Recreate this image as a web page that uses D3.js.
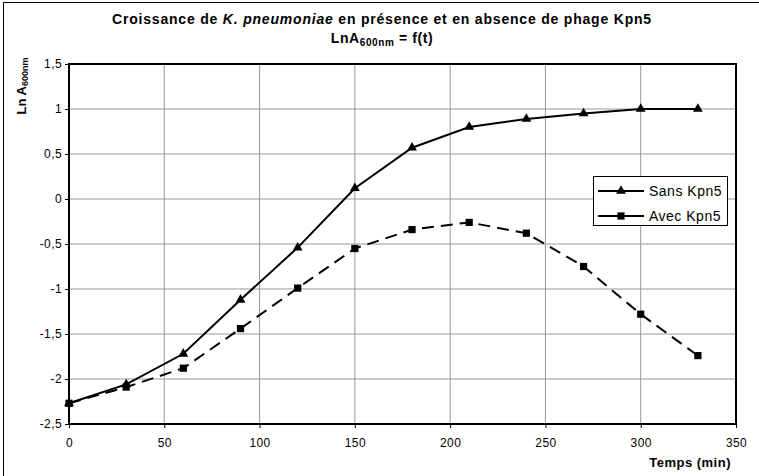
<!DOCTYPE html>
<html>
<head>
<meta charset="utf-8">
<script src="https://cdn.jsdelivr.net/npm/d3@7"></script>
<style>
  body { margin: 0; background: #fff; }
  svg { display: block; font-family: "Liberation Sans", Arial, sans-serif; }
</style>
</head>
<body>
<svg id="chart" width="759" height="476"></svg>
<script>
// data
var times = [0, 30, 60, 90, 120, 150, 180, 210, 240, 270, 300, 330];
var sansKpn5 = [-2.27, -2.06, -1.72, -1.12, -0.54, 0.12, 0.57, 0.80, 0.89, 0.95, 1.0, 1.0];
var avecKpn5 = [-2.27, -2.09, -1.88, -1.44, -0.99, -0.55, -0.34, -0.26, -0.38, -0.75, -1.28, -1.74];
var xTicks = [0, 50, 100, 150, 200, 250, 300, 350];
var yTicks = [-2.5, -2, -1.5, -1, -0.5, 0, 0.5, 1, 1.5];
var seriesNames = ['Sans Kpn5', 'Avec Kpn5'];

var svg = d3.select('#chart');
// plot area (window.top is read-only, so no "top" here)
var plotLeft = 69, plotRight = 736, plotTop = 64, plotBottom = 424;

var x = d3.scaleLinear().domain([0, 350]).range([plotLeft, plotRight]);
var y = d3.scaleLinear().domain([-2.5, 1.5]).range([plotBottom, plotTop]);
var fmt = function(d) { return String(d).replace('.', ','); };

// outer frame (only left/top visible in the reference)
svg.append('rect')
  .attr('x', 3.5).attr('y', 2.5).attr('width', 800).attr('height', 600)
  .attr('fill', 'none').attr('stroke', '#000').attr('stroke-width', 1);

// titles
var title = svg.append('text')
  .attr('x', 382).attr('y', 24).attr('text-anchor', 'middle')
  .attr('font-size', 14).attr('font-weight', 'bold').attr('letter-spacing', 0.8);
title.append('tspan').text('Croissance de ');
title.append('tspan').attr('font-style', 'italic').text('K. pneumoniae');
title.append('tspan').text(' en présence et en absence de phage Kpn5');

var sub = svg.append('text')
  .attr('x', 382).attr('y', 43).attr('text-anchor', 'middle')
  .attr('font-size', 14).attr('font-weight', 'bold').attr('letter-spacing', 0.6);
sub.append('tspan').text('LnA');
sub.append('tspan').attr('font-size', 10).attr('dy', 3).text('600nm');
sub.append('tspan').attr('dy', -3).text(' = f(t)');

// gridlines
svg.append('g').selectAll('line').data(xTicks.slice(1, -1)).enter().append('line')
  .attr('x1', function(d) { return x(d); }).attr('x2', function(d) { return x(d); })
  .attr('y1', plotTop).attr('y2', plotBottom)
  .attr('stroke', '#999').attr('stroke-width', 1);
svg.append('g').selectAll('line').data(yTicks.slice(1, -1)).enter().append('line')
  .attr('x1', plotLeft).attr('x2', plotRight)
  .attr('y1', function(d) { return y(d); }).attr('y2', function(d) { return y(d); })
  .attr('stroke', '#999').attr('stroke-width', 1);

// axes
var xAxis = svg.append('g').attr('transform', 'translate(0,' + plotBottom + ')')
  .call(d3.axisBottom(x).tickValues(xTicks).tickFormat(fmt).tickSize(4).tickPadding(10));
var yAxis = svg.append('g').attr('transform', 'translate(' + plotLeft + ',0)')
  .call(d3.axisLeft(y).tickValues(yTicks).tickFormat(fmt).tickSize(4).tickPadding(3));
[xAxis, yAxis].forEach(function(a) {
  a.select('.domain').remove();
  a.selectAll('text').attr('font-size', 12).attr('fill', '#000')
    .attr('letter-spacing', 0.4).attr('font-family', 'Liberation Sans, Arial, sans-serif');
  a.selectAll('line').attr('stroke', '#000');
});

// plot frame
svg.append('rect')
  .attr('x', plotLeft).attr('y', plotTop).attr('width', plotRight - plotLeft).attr('height', plotBottom - plotTop)
  .attr('fill', 'none').attr('stroke', '#000').attr('stroke-width', 2);

// axis titles
svg.append('text')
  .attr('x', 731).attr('y', 467).attr('text-anchor', 'end')
  .attr('font-size', 13).attr('font-weight', 'bold').attr('letter-spacing', 0.5)
  .text('Temps (min)');

var yl = svg.append('text')
  .attr('transform', 'translate(26,86) rotate(-90)')
  .attr('text-anchor', 'middle').attr('font-size', 13).attr('font-weight', 'bold');
yl.append('tspan').text('Ln A');
yl.append('tspan').attr('font-size', 9).attr('dy', 2).text('600nm');

// series
var line = d3.line()
  .x(function(d) { return x(d[0]); })
  .y(function(d) { return y(d[1]); });
var sansData = times.map(function(t, i) { return [t, sansKpn5[i]]; });
var avecData = times.map(function(t, i) { return [t, avecKpn5[i]]; });

svg.append('path').datum(avecData).attr('d', line)
  .attr('fill', 'none').attr('stroke', '#000').attr('stroke-width', 2)
  .attr('stroke-dasharray', '12,7');
svg.append('path').datum(sansData).attr('d', line)
  .attr('fill', 'none').attr('stroke', '#000').attr('stroke-width', 2);

var tri = d3.symbol().type(d3.symbolTriangle).size(42);
var sq = d3.symbol().type(d3.symbolSquare).size(52);

svg.append('g').selectAll('path').data(avecData).enter().append('path')
  .attr('d', sq)
  .attr('transform', function(d) { return 'translate(' + x(d[0]) + ',' + y(d[1]) + ')'; })
  .attr('fill', '#000');
svg.append('g').selectAll('path').data(sansData).enter().append('path')
  .attr('d', tri)
  .attr('transform', function(d) { return 'translate(' + x(d[0]) + ',' + y(d[1]) + ')'; })
  .attr('fill', '#000');

// legend
var lg = svg.append('g');
lg.append('rect')
  .attr('x', 593.5).attr('y', 176.5).attr('width', 134).attr('height', 49)
  .attr('fill', '#fff').attr('stroke', '#000').attr('stroke-width', 1);
seriesNames.forEach(function(name, i) {
  var ly = 191 + i * 25;
  lg.append('line')
    .attr('x1', 598).attr('x2', 644).attr('y1', ly).attr('y2', ly)
    .attr('stroke', '#000').attr('stroke-width', 2);
  lg.append('path')
    .attr('d', i === 0 ? tri : sq)
    .attr('transform', 'translate(621,' + ly + ')')
    .attr('fill', '#000');
  lg.append('text')
    .attr('x', 649).attr('y', ly + 5)
    .attr('font-size', 14).attr('letter-spacing', 0.5).text(name);
});
</script>
</body>
</html>
